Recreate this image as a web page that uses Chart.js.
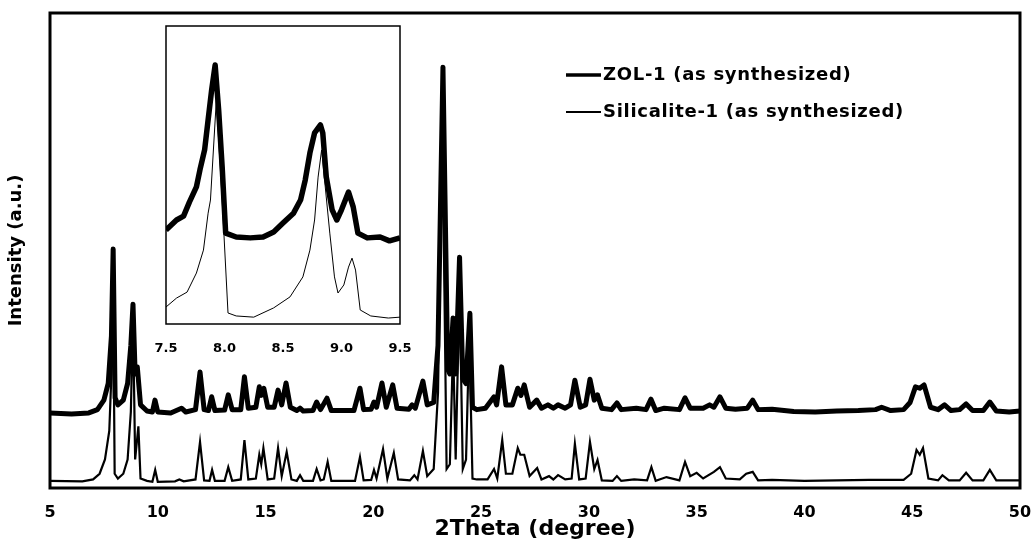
<!DOCTYPE html>
<html>
<head>
<meta charset="utf-8">
<script src="https://cdn.jsdelivr.net/npm/chart.js@4.4.1/dist/chart.umd.min.js"></script>
<style>
html, body { margin: 0; padding: 0; background: #fff; }
#wrap { position: relative; width: 1032px; height: 553px; }
#mainChart { position: absolute; left: 0; top: 0; }
#insetChart { position: absolute; left: 146px; top: 16px; }
</style>
</head>
<body>
<div id="wrap">
<canvas id="mainChart" width="1032" height="553"></canvas>
<canvas id="insetChart" width="274" height="350"></canvas>
</div>
<script>
/* XRD patterns: [2theta, intensity (a.u.)] */
var zolLabel = 'ZOL-1 (as synthesized)';
var silLabel = 'Silicalite-1 (as synthesized)';

var zolData = [
    [5, 15.8], [6, 15.6], [6.8, 15.8], [7.2, 16.5], [7.5, 18.5], [7.7, 22], [7.85, 32], [7.93, 50.3], [8.02, 19],
    [8.15, 17.5], [8.4, 18.5], [8.6, 22], [8.75, 30], [8.85, 38.7], [8.95, 24], [9.05, 25.5], [9.2, 17.5],
    [9.5, 16.2], [9.75, 16], [9.87, 18.5], [10.0, 16], [10.6, 15.8], [11.1, 16.8], [11.3, 16], [11.75, 16.5],
    [11.96, 24.4], [12.15, 16.5], [12.35, 16.3], [12.5, 19.2], [12.65, 16.3], [13.1, 16.4], [13.27, 19.6],
    [13.45, 16.5], [13.85, 16.5], [14.02, 23.4], [14.2, 16.8], [14.55, 17], [14.71, 21.3], [14.8, 19.5],
    [14.92, 21], [15.1, 17], [15.4, 17], [15.58, 20.6], [15.75, 17.5], [15.95, 22.1], [16.15, 17], [16.45, 16.3],
    [16.6, 16.8], [16.75, 16.2], [17.2, 16.3], [17.37, 18.1], [17.55, 16.5], [17.85, 18.9], [18.05, 16.3],
    [19.1, 16.3], [19.38, 21], [19.55, 16.5], [19.9, 16.6], [20.03, 18.1], [20.15, 17], [20.4, 22.1], [20.6, 17],
    [20.9, 21.7], [21.1, 16.8], [21.65, 16.6], [21.8, 17.5], [21.95, 16.8], [22.3, 22.5], [22.5, 17.5], [22.8, 18],
    [23.0, 30], [23.23, 88.6], [23.45, 25], [23.55, 24], [23.7, 35.8], [23.82, 24], [24.0, 48.6], [24.15, 23],
    [24.3, 22], [24.48, 36.8], [24.6, 17], [24.8, 16.5], [25.2, 16.8], [25.6, 19.2], [25.72, 17.5], [25.95, 25.5],
    [26.15, 17.5], [26.45, 17.5], [26.7, 21], [26.85, 19.5], [27.0, 21.7], [27.25, 17], [27.58, 18.5], [27.8, 16.8],
    [28.1, 17.5], [28.35, 16.8], [28.57, 17.5], [28.9, 16.8], [29.15, 17.5], [29.35, 22.7], [29.6, 17],
    [29.85, 17.5], [30.05, 22.9], [30.25, 18.5], [30.4, 19.6], [30.6, 16.8], [31.05, 16.5], [31.3, 17.9],
    [31.5, 16.5], [32.2, 16.8], [32.65, 16.5], [32.88, 18.7], [33.1, 16.3], [33.5, 16.8], [34.2, 16.5],
    [34.46, 19], [34.7, 16.8], [35.3, 16.8], [35.6, 17.5], [35.8, 17], [36.08, 19.2], [36.35, 16.8], [36.8, 16.6],
    [37.35, 16.8], [37.6, 18.5], [37.85, 16.5], [38.5, 16.6], [39.5, 16.1], [40.5, 16], [41.5, 16.2], [42.5, 16.3],
    [43.3, 16.5], [43.58, 17], [44.0, 16.3], [44.6, 16.5], [44.9, 18], [45.15, 21.3], [45.35, 21], [45.55, 21.7],
    [45.85, 17], [46.2, 16.5], [46.5, 17.5], [46.8, 16.3], [47.2, 16.5], [47.5, 17.7], [47.8, 16.3], [48.3, 16.3],
    [48.6, 18.1], [48.9, 16.2], [49.5, 16], [50, 16.2]
];

var silData = [
    [5, 1.5], [6.5, 1.4], [7.0, 1.8], [7.3, 3], [7.55, 6], [7.75, 12], [7.85, 24], [7.93, 42], [8.0, 3], [8.15, 2],
    [8.4, 3], [8.6, 6], [8.75, 16], [8.85, 36], [8.95, 6], [9.1, 13], [9.2, 2], [9.5, 1.5], [9.75, 1.3], [9.88, 3.8],
    [10.0, 1.3], [10.8, 1.4], [11.0, 1.8], [11.2, 1.4], [11.75, 1.8], [11.96, 9.7], [12.15, 1.6], [12.4, 1.5],
    [12.52, 3.8], [12.65, 1.5], [13.1, 1.5], [13.27, 4.4], [13.45, 1.5], [13.85, 1.8], [14.02, 10.1], [14.2, 1.8],
    [14.55, 2], [14.71, 7], [14.8, 5], [14.9, 8.4], [15.1, 1.8], [15.4, 2], [15.58, 8.4], [15.75, 2.5], [15.98, 7.6],
    [16.2, 1.8], [16.45, 1.5], [16.6, 2.7], [16.75, 1.5], [17.2, 1.5], [17.37, 4], [17.55, 1.6], [17.7, 1.8],
    [17.88, 5.5], [18.05, 1.5], [19.15, 1.5], [19.38, 6.5], [19.55, 1.6], [19.9, 1.7], [20.03, 3.8], [20.15, 2],
    [20.45, 8.2], [20.65, 2], [20.95, 7.4], [21.15, 1.8], [21.7, 1.6], [21.9, 2.7], [22.05, 1.8], [22.3, 7.8],
    [22.5, 2.5], [22.8, 4], [23.0, 20], [23.2, 78], [23.4, 4], [23.55, 5], [23.7, 30], [23.82, 6], [24.0, 42],
    [24.15, 4], [24.3, 6], [24.45, 32], [24.6, 2], [24.8, 1.8], [25.3, 1.8], [25.6, 4], [25.75, 2], [25.98, 10.1],
    [26.15, 3], [26.45, 3], [26.7, 8.4], [26.82, 7], [27.0, 7], [27.25, 2.5], [27.6, 4.2], [27.8, 1.8], [28.15, 2.5],
    [28.35, 1.8], [28.57, 2.7], [28.9, 1.8], [29.2, 2], [29.35, 9.3], [29.55, 1.8], [29.85, 2], [30.05, 9.7],
    [30.25, 4], [30.4, 5.9], [30.6, 1.6], [31.1, 1.5], [31.3, 2.5], [31.5, 1.5], [32.1, 1.8], [32.7, 1.6], [32.9, 4.4],
    [33.1, 1.5], [33.6, 2.3], [34.2, 1.6], [34.46, 5.5], [34.7, 2.5], [35.0, 3.2], [35.3, 2], [35.8, 3.4], [36.08, 4.4],
    [36.35, 2], [37.0, 1.8], [37.3, 3], [37.6, 3.4], [37.85, 1.6], [38.5, 1.7], [40, 1.5], [41.5, 1.6], [43, 1.7],
    [44.6, 1.7], [44.95, 3], [45.2, 8], [45.35, 7], [45.5, 8.4], [45.75, 2], [46.2, 1.6], [46.4, 2.7], [46.7, 1.6],
    [47.2, 1.6], [47.5, 3.2], [47.8, 1.6], [48.3, 1.6], [48.6, 3.8], [48.9, 1.6], [50, 1.6]
];

// inset: 7.5 - 9.5 degree, own intensity scale
var insetZol = [
    [7.5, 31.5], [7.59, 34.9], [7.65, 36.2], [7.7, 40.9], [7.76, 46], [7.79, 51.7], [7.83, 58.4], [7.86, 68.5],
    [7.89, 78.5], [7.92, 86.9], [7.95, 71.8], [7.98, 52.7], [8.01, 30.5], [8.1, 29.2], [8.22, 28.9], [8.33, 29.2],
    [8.42, 30.9], [8.5, 33.9], [8.59, 37.2], [8.65, 41.6], [8.69, 48.3], [8.73, 57.4], [8.77, 64.1], [8.82, 66.8],
    [8.84, 64.1], [8.87, 49.3], [8.92, 38.3], [8.96, 34.9], [9.0, 38.3], [9.06, 44.3], [9.1, 39.3], [9.14, 30.5],
    [9.22, 28.9], [9.33, 29.2], [9.41, 27.9], [9.5, 28.9]
];
var insetSil = [
    [7.5, 5.7], [7.59, 8.7], [7.68, 10.7], [7.76, 17.1], [7.82, 24.8], [7.86, 37.2], [7.88, 41.6], [7.93, 75],
    [7.98, 41.6], [8.03, 3.7], [8.1, 2.7], [8.25, 2.3], [8.42, 5.4], [8.56, 9.1], [8.67, 15.8], [8.73, 24.8],
    [8.77, 34.9], [8.8, 49.3], [8.83, 58.4], [8.9, 30.5], [8.94, 15.8], [8.97, 10.4], [9.02, 13.1], [9.06, 19.1],
    [9.09, 22.1], [9.12, 18.1], [9.16, 4.7], [9.25, 2.7], [9.4, 2], [9.5, 2.3]
];

function toXY(arr) {
    return arr.map(function (p) { return { x: p[0], y: p[1] }; });
}

var FONT = "'DejaVu Sans', sans-serif";

var framePlugin = {
    id: 'frame',
    afterDatasetsDraw: function (chart, args, opts) {
        var a = chart.chartArea, ctx = chart.ctx;
        ctx.save();
        ctx.strokeStyle = '#000';
        ctx.lineWidth = opts.width || 3;
        ctx.strokeRect(a.left, a.top, a.right - a.left, a.bottom - a.top);
        ctx.restore();
    }
};

var legendPlugin = {
    id: 'xrdLegend',
    afterDraw: function (chart) {
        var ctx = chart.ctx;
        var rows = [
            { y: 75, w: 3.5, text: chart.data.datasets[0].label },
            { y: 112, w: 2, text: chart.data.datasets[1].label }
        ];
        ctx.save();
        ctx.fillStyle = '#000';
        ctx.strokeStyle = '#000';
        ctx.font = 'bold 18px ' + FONT;
        ctx.letterSpacing = '0.7px';
        ctx.textBaseline = 'middle';
        rows.forEach(function (r) {
            ctx.lineWidth = r.w;
            ctx.beginPath();
            ctx.moveTo(566, r.y);
            ctx.lineTo(601, r.y);
            ctx.stroke();
            ctx.fillText(r.text, 603, r.y);
        });
        ctx.restore();
    }
};

// keep the plot frame where the figure has it, whatever the label overhang
function noSidePadding(s) {
    s.paddingLeft = 0;
    s.paddingRight = 0;
}

new Chart(document.getElementById('mainChart').getContext('2d'), {
    type: 'line',
    data: {
        datasets: [{
            label: zolLabel,
            data: toXY(zolData),
            borderColor: '#000',
            borderWidth: 5,
            pointRadius: 0,
            tension: 0,
            borderJoinStyle: 'round'
        }, {
            label: silLabel,
            data: toXY(silData),
            borderColor: '#000',
            borderWidth: 2.2,
            pointRadius: 0,
            tension: 0
        }]
    },
    options: {
        responsive: false,
        animation: false,
        layout: { padding: { top: 13, right: 12 } },
        plugins: { legend: { display: false }, tooltip: { enabled: false }, frame: { width: 3 } },
        scales: {
            x: {
                type: 'linear', min: 5, max: 50,
                grid: { display: false, drawTicks: false },
                border: { display: false },
                ticks: { stepSize: 5, padding: 15, color: '#000', font: { family: FONT, size: 16, weight: 'bold' } },
                title: { display: true, text: '2Theta (degree)', color: '#000', padding: { top: 0, bottom: 11 },
                         font: { family: FONT, size: 22, weight: 'bold' } },
                afterFit: function (s) { s.height = 65; noSidePadding(s); }
            },
            y: {
                min: 0, max: 100,
                grid: { display: false, drawTicks: false },
                border: { display: false },
                ticks: { display: false },
                title: { display: true, text: 'Intensity (a.u.)', color: '#000', padding: { top: 6, bottom: 0 },
                         font: { family: FONT, size: 18, weight: 'bold' } },
                afterFit: function (s) { s.width = 50; }
            }
        }
    },
    plugins: [framePlugin, legendPlugin]
});

new Chart(document.getElementById('insetChart').getContext('2d'), {
    type: 'line',
    data: {
        datasets: [{
            data: toXY(insetZol),
            borderColor: '#000',
            borderWidth: 5.5,
            pointRadius: 0,
            tension: 0,
            borderJoinStyle: 'round'
        }, {
            data: toXY(insetSil),
            borderColor: '#000',
            borderWidth: 1,
            pointRadius: 0,
            tension: 0
        }]
    },
    options: {
        responsive: false,
        animation: false,
        layout: { padding: { top: 10, left: 20, right: 20 } },
        plugins: { legend: { display: false }, tooltip: { enabled: false }, frame: { width: 1.5 } },
        scales: {
            x: {
                type: 'linear', min: 7.5, max: 9.5,
                grid: { display: false, drawTicks: false },
                border: { display: false },
                ticks: { stepSize: 0.5, padding: 17, color: '#000', font: { family: FONT, size: 13, weight: 'bold' },
                         callback: function (v) { return v.toFixed(1); } },
                afterFit: function (s) { s.height = 42; noSidePadding(s); }
            },
            y: { display: false, min: 0, max: 100 }
        }
    },
    plugins: [framePlugin]
});
</script>
</body>
</html>
